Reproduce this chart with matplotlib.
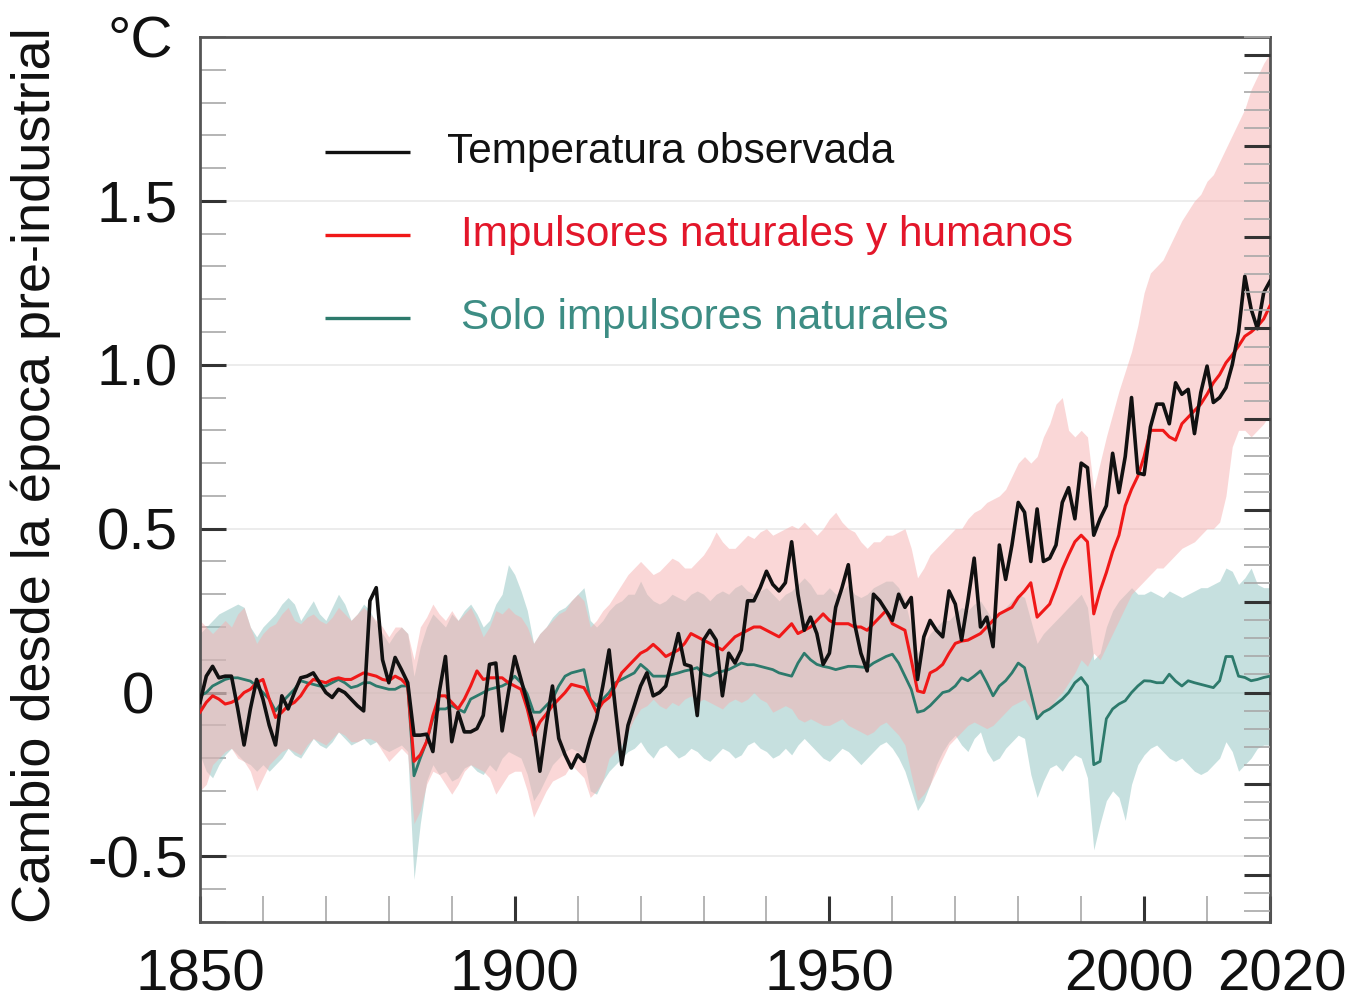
import numpy as np
import matplotlib
matplotlib.use("Agg")
import matplotlib.pyplot as plt
from matplotlib.ticker import MultipleLocator, FixedLocator, NullFormatter
from matplotlib.transforms import ScaledTranslation

plt.rcParams['font.family'] = ['Liberation Sans', 'DejaVu Sans']

years = list(range(1850, 2021))

observed = [
    -0.03, 0.05, 0.08, 0.045, 0.05, 0.05, -0.05, -0.16, -0.05, 0.04,
    -0.02, -0.10, -0.16, -0.01, -0.05, 0.00, 0.045, 0.05, 0.06, 0.03,
    0.00, -0.015, 0.01, 0.00, -0.02, -0.04, -0.056, 0.28, 0.32, 0.10,
    0.03, 0.107, 0.07, 0.03, -0.13, -0.13, -0.127, -0.18, 0.00, 0.11,
    -0.15, -0.06, -0.12, -0.12, -0.11, -0.07, 0.086, 0.09, -0.117, 0.00,
    0.11, 0.04, -0.03, -0.10, -0.24, -0.10, 0.02, -0.14, -0.19, -0.23,
    -0.19, -0.21, -0.14, -0.08, 0.02, 0.13, -0.05, -0.22, -0.10, -0.04,
    0.02, 0.06, -0.01, 0.00, 0.02, 0.10, 0.18, 0.086, 0.08, -0.07,
    0.16, 0.19, 0.16, -0.01, 0.12, 0.09, 0.13, 0.28, 0.28, 0.32,
    0.37, 0.33, 0.31, 0.335, 0.46, 0.30, 0.19, 0.23, 0.18, 0.086,
    0.12, 0.26, 0.32, 0.39, 0.21, 0.12, 0.066, 0.30, 0.28, 0.25,
    0.22, 0.30, 0.26, 0.29, 0.04, 0.17, 0.22, 0.19, 0.17, 0.31,
    0.27, 0.16, 0.28, 0.41, 0.20, 0.23, 0.14, 0.45, 0.345, 0.45,
    0.58, 0.55, 0.40, 0.56, 0.40, 0.41, 0.45, 0.58, 0.625, 0.53,
    0.70, 0.686, 0.48, 0.53, 0.57, 0.73, 0.61, 0.72, 0.90, 0.67,
    0.665, 0.81, 0.88, 0.88, 0.82, 0.945, 0.91, 0.925, 0.79, 0.915,
    0.996, 0.885, 0.90, 0.93, 1.00, 1.10, 1.27, 1.17, 1.11, 1.22,
    1.255,
]

human_natural = [
    -0.06, -0.03, -0.01, -0.02, -0.035, -0.03, -0.02, 0.00, 0.01, 0.03,
    0.04, -0.02, -0.076, -0.06, -0.04, -0.03, -0.01, 0.02, 0.04, 0.035,
    0.03, 0.04, 0.045, 0.04, 0.04, 0.05, 0.06, 0.055, 0.05, 0.04,
    0.036, 0.05, 0.04, 0.02, -0.21, -0.19, -0.15, -0.07, -0.01, -0.01,
    -0.03, -0.05, -0.02, 0.02, 0.066, 0.04, 0.045, 0.045, 0.045, 0.03,
    0.02, 0.01, -0.05, -0.13, -0.09, -0.066, -0.04, -0.02, 0.00, 0.025,
    0.02, 0.015, -0.02, -0.06, -0.03, -0.015, 0.02, 0.06, 0.08, 0.10,
    0.12, 0.13, 0.147, 0.13, 0.11, 0.12, 0.13, 0.15, 0.18, 0.17,
    0.16, 0.15, 0.14, 0.13, 0.15, 0.17, 0.18, 0.19, 0.20, 0.20,
    0.19, 0.18, 0.17, 0.19, 0.21, 0.18, 0.19, 0.20, 0.22, 0.24,
    0.22, 0.21, 0.21, 0.21, 0.20, 0.20, 0.19, 0.21, 0.23, 0.25,
    0.21, 0.20, 0.19, 0.10, 0.005, 0.00, 0.06, 0.07, 0.086, 0.12,
    0.15, 0.157, 0.16, 0.17, 0.18, 0.20, 0.22, 0.24, 0.25, 0.26,
    0.29, 0.31, 0.335, 0.23, 0.25, 0.27, 0.32, 0.376, 0.42, 0.46,
    0.48, 0.46, 0.24, 0.31, 0.366, 0.43, 0.48, 0.57, 0.62, 0.66,
    0.72, 0.80, 0.80, 0.80, 0.78, 0.77, 0.82, 0.84, 0.86, 0.88,
    0.91, 0.945, 0.97, 1.006, 1.03, 1.057, 1.087, 1.10, 1.117, 1.14,
    1.18,
]

natural_only = [
    -0.01, 0.00, 0.02, 0.03, 0.04, 0.045, 0.045, 0.04, 0.035, 0.02,
    0.00, -0.02, -0.056, -0.03, -0.01, 0.01, 0.036, 0.03, 0.025, 0.02,
    0.02, 0.03, 0.04, 0.03, 0.015, 0.02, 0.03, 0.03, 0.02, 0.015,
    0.01, 0.01, 0.02, 0.02, -0.254, -0.20, -0.15, -0.08, -0.05, -0.05,
    -0.04, -0.05, -0.06, -0.02, -0.01, 0.00, 0.01, 0.015, 0.02, 0.03,
    0.05, 0.03, -0.005, -0.06, -0.06, -0.04, -0.02, 0.02, 0.05, 0.06,
    0.065, 0.07, -0.02, -0.04, -0.02, 0.00, 0.03, 0.04, 0.05, 0.06,
    0.086, 0.07, 0.05, 0.05, 0.05, 0.055, 0.06, 0.066, 0.07, 0.076,
    0.056, 0.05, 0.06, 0.065, 0.07, 0.08, 0.09, 0.085, 0.085, 0.08,
    0.075, 0.07, 0.06, 0.055, 0.05, 0.09, 0.12, 0.10, 0.086, 0.08,
    0.076, 0.07, 0.075, 0.08, 0.08, 0.078, 0.076, 0.09, 0.10, 0.11,
    0.117, 0.09, 0.05, 0.01, -0.06, -0.055, -0.04, -0.02, 0.00, 0.005,
    0.02, 0.045, 0.036, 0.05, 0.066, 0.03, -0.01, 0.02, 0.036, 0.06,
    0.09, 0.076, 0.00, -0.08, -0.06, -0.05, -0.035, -0.02, 0.00, 0.03,
    0.046, 0.02, -0.22, -0.21, -0.08, -0.05, -0.035, -0.025, 0.00, 0.02,
    0.036, 0.035, 0.03, 0.03, 0.056, 0.035, 0.02, 0.036, 0.03, 0.025,
    0.02, 0.015, 0.036, 0.11, 0.11, 0.05, 0.046, 0.036, 0.04, 0.046,
    0.05,
]

hn_upper = [
    0.22, 0.20, 0.18, 0.20, 0.22, 0.20, 0.24, 0.26, 0.20, 0.15,
    0.18, 0.20, 0.21, 0.24, 0.26, 0.22, 0.21, 0.23, 0.24, 0.22,
    0.21, 0.23, 0.26, 0.24, 0.22, 0.24, 0.26, 0.24, 0.22, 0.20,
    0.17, 0.20, 0.20, 0.18, 0.10, 0.20, 0.23, 0.27, 0.24, 0.22,
    0.25, 0.22, 0.24, 0.26, 0.22, 0.17, 0.20, 0.25, 0.24, 0.26,
    0.24, 0.23, 0.20, 0.15, 0.18, 0.20, 0.22, 0.24, 0.25, 0.28,
    0.30, 0.28, 0.20, 0.22, 0.25, 0.27, 0.30, 0.33, 0.36, 0.38,
    0.40, 0.38, 0.36, 0.37, 0.39, 0.41, 0.40, 0.38, 0.38, 0.40,
    0.42, 0.45, 0.49, 0.46, 0.44, 0.44, 0.46, 0.48, 0.47, 0.49,
    0.50, 0.48, 0.49, 0.50, 0.51, 0.50, 0.52, 0.50, 0.48, 0.50,
    0.53, 0.55, 0.52, 0.50, 0.49, 0.46, 0.44, 0.46, 0.46, 0.48,
    0.48, 0.49, 0.50, 0.44, 0.35, 0.38, 0.42, 0.44, 0.46, 0.48,
    0.50, 0.50, 0.53, 0.55, 0.56, 0.58, 0.59, 0.60, 0.62, 0.66,
    0.70, 0.72, 0.70, 0.72, 0.78, 0.82, 0.88, 0.90, 0.80, 0.78,
    0.80, 0.78, 0.62, 0.70, 0.78, 0.85, 0.92, 0.98, 1.04, 1.12,
    1.22, 1.28, 1.30, 1.32, 1.36, 1.40, 1.44, 1.47, 1.50, 1.52,
    1.56, 1.58, 1.62, 1.66, 1.70, 1.74, 1.78, 1.84, 1.88, 1.92,
    1.95,
]

hn_lower = [
    -0.30, -0.28, -0.22, -0.20, -0.18, -0.17, -0.20, -0.21, -0.24, -0.30,
    -0.26, -0.22, -0.20, -0.18, -0.17, -0.18, -0.19, -0.16, -0.14, -0.15,
    -0.16, -0.14, -0.12, -0.13, -0.15, -0.15, -0.14, -0.14, -0.15, -0.18,
    -0.21, -0.19, -0.17, -0.19, -0.40, -0.36, -0.28, -0.24, -0.25, -0.28,
    -0.31, -0.28, -0.24, -0.22, -0.23, -0.24, -0.26, -0.31, -0.28, -0.25,
    -0.24, -0.24, -0.30, -0.38, -0.34, -0.30, -0.27, -0.26, -0.25, -0.22,
    -0.24, -0.26, -0.32, -0.30, -0.27, -0.20, -0.18, -0.16, -0.12, -0.08,
    -0.05, -0.04, -0.02, -0.04, -0.05, -0.03, -0.04, -0.02, -0.01, -0.03,
    -0.02, -0.03, -0.04, -0.05, -0.03, -0.02, -0.03, -0.02, 0.00, -0.02,
    -0.03, -0.06, -0.05, -0.04, -0.05, -0.08, -0.09, -0.08, -0.09, -0.10,
    -0.10, -0.09, -0.08, -0.10, -0.11, -0.12, -0.13, -0.12, -0.10, -0.09,
    -0.11, -0.13, -0.16, -0.25, -0.33, -0.31, -0.28, -0.24, -0.20, -0.16,
    -0.14, -0.12, -0.10, -0.09, -0.10, -0.11, -0.10, -0.08, -0.06, -0.04,
    -0.03, -0.02, -0.05, -0.08, -0.06, -0.05, -0.02, 0.00, 0.03, 0.06,
    0.10, 0.08, 0.12, 0.10, 0.14, 0.18, 0.22, 0.26, 0.30, 0.32,
    0.34, 0.36, 0.38, 0.38, 0.40, 0.42, 0.44, 0.45, 0.46, 0.48,
    0.50, 0.50, 0.52, 0.60, 0.75, 0.80, 0.80, 0.78, 0.80, 0.82,
    0.85,
]

nat_upper = [
    0.18, 0.20, 0.22, 0.24, 0.25, 0.26, 0.27, 0.26, 0.20, 0.17,
    0.20, 0.22, 0.24, 0.27, 0.29, 0.27, 0.22, 0.25, 0.28, 0.24,
    0.22, 0.26, 0.30, 0.27, 0.22, 0.24, 0.27, 0.25, 0.21, 0.18,
    0.15, 0.18, 0.20, 0.18, 0.05, 0.14, 0.20, 0.24, 0.22, 0.20,
    0.24, 0.22, 0.25, 0.27, 0.24, 0.20, 0.22, 0.27, 0.30, 0.39,
    0.36, 0.31, 0.25, 0.15, 0.18, 0.20, 0.23, 0.25, 0.26, 0.28,
    0.30, 0.32, 0.22, 0.20, 0.22, 0.25, 0.27, 0.28, 0.30, 0.30,
    0.34, 0.30, 0.28, 0.27, 0.28, 0.30, 0.29, 0.28, 0.30, 0.31,
    0.30, 0.28, 0.30, 0.31, 0.30, 0.32, 0.33, 0.31, 0.30, 0.31,
    0.32, 0.30, 0.28, 0.30, 0.31, 0.33, 0.35, 0.33, 0.30, 0.30,
    0.32, 0.30, 0.31, 0.33, 0.30, 0.29, 0.30, 0.32, 0.33, 0.34,
    0.34, 0.32, 0.28, 0.20, 0.12, 0.15, 0.18, 0.20, 0.22, 0.22,
    0.24, 0.26, 0.25, 0.27, 0.28, 0.25, 0.22, 0.24, 0.26, 0.28,
    0.30, 0.29, 0.22, 0.15, 0.18, 0.20, 0.22, 0.24, 0.26, 0.28,
    0.30, 0.26, 0.10, 0.12, 0.20, 0.25, 0.28, 0.30, 0.32, 0.30,
    0.30, 0.31, 0.30, 0.29, 0.31, 0.30, 0.29, 0.30, 0.31, 0.32,
    0.32, 0.33, 0.34, 0.38, 0.37, 0.33, 0.35, 0.38, 0.33, 0.32,
    0.32,
]

nat_lower = [
    -0.19, -0.24, -0.26, -0.22, -0.19, -0.17, -0.19, -0.21, -0.22, -0.24,
    -0.22, -0.24, -0.22, -0.20, -0.17, -0.19, -0.20, -0.17, -0.14, -0.16,
    -0.17, -0.15, -0.12, -0.14, -0.16, -0.15, -0.14, -0.16, -0.15, -0.17,
    -0.18, -0.17, -0.16, -0.18, -0.57, -0.40, -0.27, -0.22, -0.25, -0.24,
    -0.27, -0.26, -0.23, -0.22, -0.24, -0.25, -0.22, -0.24, -0.20, -0.18,
    -0.19, -0.20, -0.25, -0.33, -0.30, -0.26, -0.22, -0.20, -0.18, -0.17,
    -0.18, -0.20, -0.30, -0.31, -0.27, -0.24, -0.22, -0.20, -0.18, -0.17,
    -0.15, -0.18, -0.20, -0.17, -0.16, -0.18, -0.20, -0.19, -0.17, -0.18,
    -0.20, -0.21, -0.19, -0.17, -0.18, -0.20, -0.19, -0.16, -0.15, -0.17,
    -0.18, -0.20, -0.19, -0.17, -0.19, -0.16, -0.14, -0.16, -0.18, -0.20,
    -0.21, -0.19, -0.17, -0.18, -0.20, -0.22, -0.20, -0.18, -0.16, -0.15,
    -0.17, -0.20, -0.24, -0.30, -0.36, -0.33, -0.28, -0.22, -0.18, -0.15,
    -0.13, -0.16, -0.18, -0.14, -0.12, -0.18, -0.21, -0.20, -0.17, -0.15,
    -0.13, -0.14, -0.25, -0.32, -0.27, -0.23, -0.22, -0.24, -0.21, -0.19,
    -0.20, -0.26, -0.48, -0.40, -0.33, -0.30, -0.32, -0.39, -0.28, -0.22,
    -0.19, -0.17, -0.16, -0.18, -0.20, -0.21, -0.20, -0.22, -0.24, -0.25,
    -0.24, -0.22, -0.20, -0.15, -0.18, -0.24, -0.22, -0.20, -0.17, -0.16,
    -0.16,
]

labels = ["Temperatura observada", "Impulsores naturales y humanos",
          "Solo impulsores naturales"]
x_ticks = [1850, 1900, 1950, 2000, 2020]
x_tick_labels = ["1850", "1900", "1950", "2000", "2020"]
y_ticks = [-0.5, 0, 0.5, 1.0, 1.5]
y_tick_labels = ["-0.5", "0", "0.5", "1.0", "1.5"]

C_BLACK = "#111111"
C_RED = "#f01818"
C_TEAL = "#2d7a6c"
C_RED_TXT = "#e3162a"
C_TEAL_TXT = "#3d8d84"

W, H = 1352, 1005
fig = plt.figure(figsize=(W / 100, H / 100), dpi=100)
L, R, T, B = 200, 1270, 37, 922
ax = fig.add_axes([L / W, 1 - B / H, (R - L) / W, (B - T) / H])

ax.fill_between(years, nat_lower, nat_upper, color="#8ec3c0", alpha=0.5,
                lw=0, zorder=1)
ax.fill_between(years, hn_lower, hn_upper, color="#f6b0b0", alpha=0.5,
                lw=0, zorder=2)
ax.plot(years, natural_only, color=C_TEAL, lw=2.0, zorder=4)
ax.plot(years, human_natural, color=C_RED, lw=2.2, zorder=5)
ax.plot(years, observed, color=C_BLACK, lw=2.6, zorder=6)

ax.set_xlim(1850, 2020)
ax.set_ylim(-0.7, 2.0)

ax.set_yticks(y_ticks)
ax.set_yticklabels(y_tick_labels)
ax.yaxis.set_minor_locator(MultipleLocator(0.1))
ax.set_xticks(x_ticks)
ax.set_xticklabels(x_tick_labels)
ax.xaxis.set_minor_locator(FixedLocator(list(range(1860, 2020, 10))))

ax.tick_params(axis="both", which="major", direction="in", length=19,
               width=2.2, color="#333333", labelsize=42, labelcolor="#111111")
ax.tick_params(axis="y", which="major", pad=45, right=False)
ax.tick_params(axis="x", which="major", pad=19, top=False)
ax.tick_params(axis="both", which="minor", direction="in", length=19,
               width=1.2, color="#a8a8a8")
ax.tick_params(axis="x", which="minor", top=False)
ax.tick_params(axis="y", which="minor", right=False)

for lab in ax.get_yticklabels():
    lab.set_horizontalalignment("center")

xl = ax.get_xticklabels()
xl[3].set_transform(xl[3].get_transform() +
                    ScaledTranslation(-0.15, 0, fig.dpi_scale_trans))
xl[4].set_transform(xl[4].get_transform() +
                    ScaledTranslation(0.12, 0, fig.dpi_scale_trans))

ax.yaxis.grid(True, which="major", color="#ebebeb", lw=1.3, zorder=0)
ax.set_axisbelow(True)
for s in ax.spines.values():
    s.set_color("#555555")
    s.set_linewidth(2.0)

# right axis in Fahrenheit (ticks only)
ax2 = ax.twinx()
ax2.set_ylim(-0.7 * 1.8, 2.0 * 1.8)
ax2.yaxis.set_major_locator(MultipleLocator(0.5))
ax2.yaxis.set_minor_locator(MultipleLocator(0.1))
ax2.yaxis.set_major_formatter(NullFormatter())
ax2.tick_params(axis="y", which="major", direction="in", length=19,
                width=2.2, color="#333333")
ax2.tick_params(axis="y", which="minor", direction="in", length=19,
                width=1.2, color="#a8a8a8")
for s in ax2.spines.values():
    s.set_visible(False)

# legend drawn manually
leg_y = [0.870, 0.776, 0.683]
leg_cols = [C_BLACK, C_RED, C_TEAL]
txt_cols = ["#111111", C_RED_TXT, C_TEAL_TXT]
txt_x = [0.231, 0.244, 0.244]
for yy, lc, tc, tx, lab in zip(leg_y, leg_cols, txt_cols, txt_x, labels):
    ax.plot([0.117, 0.196], [yy, yy], transform=ax.transAxes, color=lc,
            lw=2.4, zorder=7, solid_capstyle="butt")
    ax.text(tx, yy, lab, transform=ax.transAxes, color=tc, fontsize=30.5,
            va="center", ha="left", zorder=7)

fig.text(140 / W, 1 - 42 / H, "°C", fontsize=42, ha="center", va="center",
         color="#111111")
fig.text(36 / W, 1 - 475 / H, "Cambio desde la época pre-industrial",
         fontsize=39, rotation=90, ha="center", va="center", color="#111111")

fig.savefig("out.png", dpi=100)
